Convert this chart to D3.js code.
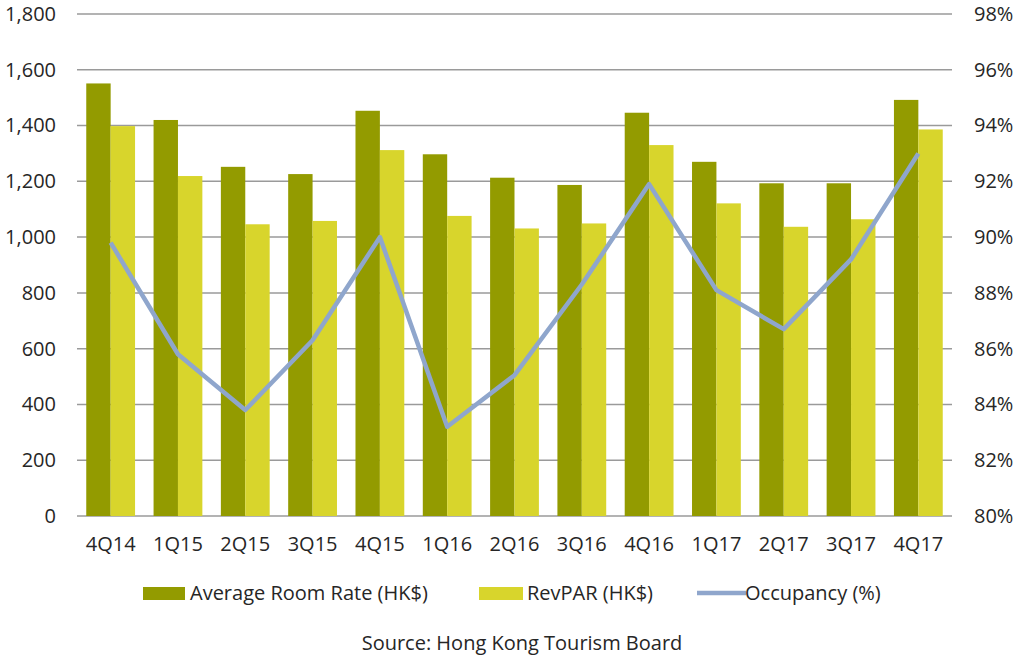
<!DOCTYPE html>
<html>
<head>
<meta charset="utf-8">
<script src="https://cdn.jsdelivr.net/npm/d3@7"></script>
<style>
  body { margin: 0; background: #fff; }
  text { font-family: "Open Sans", "Noto Sans", sans-serif; fill: #262626; }
</style>
</head>
<body>
<div id="chart"></div>
<script>
let quarters = ["4Q14", "1Q15", "2Q15", "3Q15", "4Q15", "1Q16", "2Q16", "3Q16", "4Q16", "1Q17", "2Q17", "3Q17", "4Q17"];
let roomRate = [1551, 1420, 1252, 1226, 1453, 1297, 1213, 1187, 1446, 1270, 1193, 1193, 1492];
let revPar = [1398, 1219, 1046, 1058, 1312, 1076, 1031, 1049, 1330, 1121, 1037, 1064, 1386];
let occupancy = [89.8, 85.8, 83.8, 86.3, 90.0, 83.2, 85.05, 88.3, 91.9, 88.1, 86.7, 89.2, 93.0];
let leftTicks = [0, 200, 400, 600, 800, 1000, 1200, 1400, 1600, 1800];
let rightTicks = [80, 82, 84, 86, 88, 90, 92, 94, 96, 98];

let width = 1024, height = 660;
let plotLeft = 77, plotRight = 952, plotTop = 14, plotBottom = 516;
let fs = "20px";

let svg = d3.select("#chart").append("svg")
    .attr("width", width)
    .attr("height", height);

let x = d3.scaleBand().domain(quarters).range([plotLeft, plotRight]).paddingInner(0.275).paddingOuter(0.1375);
let yLeft = d3.scaleLinear().domain([0, 1800]).range([plotBottom, plotTop]);
let yRight = d3.scaleLinear().domain([80, 98]).range([plotBottom, plotTop]);

// gridlines
svg.append("g")
    .selectAll("line")
    .data(leftTicks)
    .enter()
    .append("line")
    .attr("x1", plotLeft)
    .attr("x2", plotRight)
    .attr("y1", d => yLeft(d))
    .attr("y2", d => yLeft(d))
    .style("stroke", "#9a9a9a")
    .style("stroke-width", 1.5);

let yAxisL = d3.axisLeft(yLeft).tickValues(leftTicks).tickSize(0).tickPadding(21).tickFormat(d3.format(","));
let gl = svg.append("g").attr("transform", `translate(${plotLeft},0)`).call(yAxisL);
gl.select(".domain").remove();
gl.selectAll("text").style("font-size", fs);

let yAxisR = d3.axisRight(yRight).tickValues(rightTicks).tickSize(0).tickPadding(22).tickFormat(d => d + "%");
let gr = svg.append("g").attr("transform", `translate(${plotRight},0)`).call(yAxisR);
gr.select(".domain").remove();
gr.selectAll("text").style("font-size", fs);

let xAxis = d3.axisBottom(x).tickSize(0).tickPadding(21);
let gx = svg.append("g").attr("transform", `translate(0,${plotBottom})`).call(xAxis);
gx.select(".domain").remove();
gx.selectAll("text").style("font-size", fs);

let bw = x.bandwidth() / 2;

svg.selectAll("rect.rate")
    .data(roomRate)
    .enter()
    .append("rect")
    .attr("class", "rate")
    .attr("x", (d, i) => x(quarters[i]))
    .attr("y", d => yLeft(d))
    .attr("width", bw)
    .attr("height", d => plotBottom - yLeft(d))
    .style("fill", "#939b00");

svg.selectAll("rect.revpar")
    .data(revPar)
    .enter()
    .append("rect")
    .attr("class", "revpar")
    .attr("x", (d, i) => x(quarters[i]) + bw)
    .attr("y", d => yLeft(d))
    .attr("width", bw)
    .attr("height", d => plotBottom - yLeft(d))
    .style("fill", "#d8d52c");

let line = d3.line()
    .x((d, i) => x(quarters[i]) + x.bandwidth() / 2)
    .y(d => yRight(d));

svg.append("path")
    .datum(occupancy)
    .attr("d", line)
    .style("fill", "none")
    .style("stroke", "#8fa6cc")
    .style("stroke-width", 4.5)
    .style("stroke-linejoin", "round");

// legend
let legendY = 593;
let legend = svg.append("g");
legend.append("rect").attr("x", 143).attr("y", legendY - 6).attr("width", 42).attr("height", 13).style("fill", "#939b00");
legend.append("text").attr("x", 190).attr("y", legendY).attr("dy", "0.35em").style("font-size", fs).text("Average Room Rate (HK$)");
legend.append("rect").attr("x", 479).attr("y", legendY - 6).attr("width", 44).attr("height", 13).style("fill", "#d8d52c");
legend.append("text").attr("x", 527).attr("y", legendY).attr("dy", "0.35em").style("font-size", fs).text("RevPAR (HK$)");
legend.append("line").attr("x1", 697).attr("x2", 746).attr("y1", legendY).attr("y2", legendY).style("stroke", "#8fa6cc").style("stroke-width", 4.5);
legend.append("text").attr("x", 745).attr("y", legendY).attr("dy", "0.35em").style("font-size", fs).text("Occupancy (%)");

svg.append("text")
    .attr("x", 522)
    .attr("y", 643)
    .attr("dy", "0.35em")
    .attr("text-anchor", "middle")
    .style("font-size", fs)
    .text("Source: Hong Kong Tourism Board");
</script>
</body>
</html>
